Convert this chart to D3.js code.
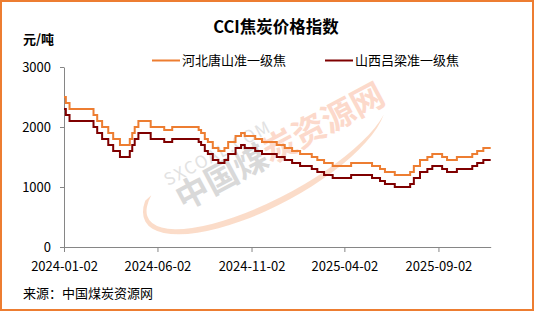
<!DOCTYPE html>
<html>
<head>
  <meta charset="utf-8">
  <title>CCI焦炭价格指数</title>
  <script src="https://d3js.org/d3.v7.min.js"></script>
  <style>
    body { margin: 0; background: #fff; }
    text { font-family: "Noto Sans CJK SC", sans-serif; fill: #000; }
  </style>
</head>
<body>

<script>
// step change dates (price in effect from that day)
const dates = [
  '2024-01-02', '2024-01-05', '2024-01-11', '2024-02-19', '2024-02-25', '2024-03-04',
  '2024-03-14', '2024-03-22', '2024-04-02', '2024-04-18', '2024-04-22', '2024-04-26',
  '2024-05-02', '2024-05-22', '2024-06-13', '2024-06-26', '2024-08-08', '2024-08-12',
  '2024-08-18', '2024-08-23', '2024-08-31', '2024-09-09', '2024-09-19', '2024-09-25',
  '2024-10-07', '2024-10-16', '2024-10-22', '2024-11-08', '2024-11-19', '2024-12-13',
  '2024-12-26', '2025-01-07', '2025-01-20', '2025-02-08', '2025-02-17', '2025-02-28',
  '2025-03-14', '2025-04-13', '2025-05-17', '2025-05-30', '2025-06-07', '2025-06-23',
  '2025-07-18', '2025-07-24', '2025-08-03', '2025-08-15', '2025-08-23', '2025-09-08',
  '2025-09-16', '2025-10-02', '2025-10-27', '2025-11-04', '2025-11-14', '2025-11-26'
];

// 河北唐山准一级焦
const hebei = [
  2500, 2400, 2300, 2200, 2100, 2000,
  1900, 1800, 1700, 1800, 1900, 2000,
  2100, 2000, 1950, 2000, 1950, 1900,
  1800, 1750, 1650, 1600, 1650, 1750,
  1850, 1900, 1850, 1800, 1750, 1700,
  1650, 1600, 1550, 1500, 1450, 1400,
  1350, 1400, 1350, 1300, 1250, 1200,
  1250, 1350, 1450, 1500, 1550, 1500,
  1450, 1500, 1550, 1600, 1650, 1650
];

// 山西吕梁准一级焦
const shanxi = [
  2300, 2200, 2100, 2000, 1900, 1800,
  1700, 1600, 1500, 1600, 1700, 1800,
  1900, 1800, 1750, 1800, 1750, 1700,
  1600, 1550, 1450, 1400, 1450, 1550,
  1650, 1700, 1650, 1600, 1550, 1500,
  1450, 1400, 1350, 1300, 1250, 1200,
  1150, 1200, 1150, 1100, 1050, 1000,
  1050, 1150, 1250, 1300, 1350, 1300,
  1250, 1300, 1350, 1400, 1450, 1450
];

const xTickLabels = ['2024-01-02', '2024-06-02', '2024-11-02', '2025-04-02', '2025-09-02'];
const yTicks = [0, 1000, 2000, 3000];

const seriesNames = ['河北唐山准一级焦', '山西吕梁准一级焦'];
const colors = ['#ed7d31', '#7f0000'];

const width = 534, height = 311;
const margin = { top: 67, right: 43.3, bottom: 64, left: 64 };

const parse = d3.timeParse('%Y-%m-%d');
const t = dates.map(parse);

const svg = d3.select('body').append('svg')
  .attr('width', width)
  .attr('height', height);

// outer frame
svg.append('rect')
  .attr('x', 1).attr('y', 1)
  .attr('width', width - 2).attr('height', height - 2)
  .attr('fill', '#fff')
  .attr('stroke', '#ed7d31')
  .attr('stroke-width', 2);

const x = d3.scaleTime()
  .domain(d3.extent(t))
  .range([margin.left, width - margin.right]);

const y = d3.scaleLinear()
  .domain([0, 3000])
  .range([height - margin.bottom, margin.top]);

// watermark
const wm = svg.append('g')
  .attr('transform', 'translate(272,156) rotate(-28)');

wm.append('path')
  .attr('d', 'M -133,-20 A 128 46 0 0 0 118 16 A 124 40 0 0 1 -125 -22 Z')
  .attr('fill', '#fad3bc')
  .attr('opacity', 0.8);

wm.append('text')
  .attr('x', -106).attr('y', -22)
  .attr('font-size', 17)
  .attr('letter-spacing', 1.5)
  .style('fill', '#e2e2e2')
  .text('SXCOAL.COM');

const wt = wm.append('text')
  .attr('x', -104).attr('y', 7)
  .attr('font-size', 33)
  .attr('font-weight', 'bold');
wt.append('tspan').style('fill', '#d9d9d9').text('中国煤');
wt.append('tspan').style('fill', '#fcd9cb').text('炭资源网');

// axes
const xAxis = d3.axisBottom(x)
  .tickValues(xTickLabels.map(parse))
  .tickFormat(d3.timeFormat('%Y-%m-%d'))
  .tickSize(5)
  .tickSizeOuter(0)
  .tickPadding(10);

const gx = svg.append('g')
  .attr('transform', `translate(0,${height - margin.bottom})`)
  .call(xAxis);
gx.selectAll('text').attr('font-size', 13).style('font-family', '"Noto Sans CJK SC", sans-serif');

const yAxis = d3.axisLeft(y)
  .tickValues(yTicks)
  .tickFormat(d3.format('d'))
  .tickSize(4)
  .tickSizeOuter(0)
  .tickPadding(9);

const gy = svg.append('g')
  .attr('transform', `translate(${margin.left},0)`)
  .call(yAxis);
gy.selectAll('text').attr('font-size', 13).style('font-family', '"Noto Sans CJK SC", sans-serif');

svg.selectAll('.domain, .tick line').attr('stroke', '#868686');

// lines
const line = vals => d3.line()
  .x((d, i) => x(t[i]))
  .y(d => y(d))
  .curve(d3.curveStepAfter)(vals);

[hebei, shanxi].forEach((vals, k) => {
  svg.append('path')
    .attr('d', line(vals))
    .attr('fill', 'none')
    .attr('stroke', colors[k])
    .attr('stroke-width', 2);
});

// title & labels
svg.append('text')
  .attr('x', 276).attr('y', 33)
  .attr('text-anchor', 'middle')
  .attr('font-size', 16.5)
  .attr('font-weight', 'bold')
  .text('CCI焦炭价格指数');

svg.append('text')
  .attr('x', 23).attr('y', 43.5)
  .attr('font-size', 13)
  .attr('font-weight', 'bold')
  .text('元/吨');

// legend
const legendX = [152, 325];
seriesNames.forEach((name, k) => {
  svg.append('line')
    .attr('x1', legendX[k]).attr('x2', legendX[k] + 28)
    .attr('y1', 60.5).attr('y2', 60.5)
    .attr('stroke', colors[k])
    .attr('stroke-width', 2);
  svg.append('text')
    .attr('x', legendX[k] + 30).attr('y', 65)
    .attr('font-size', 13)
    .text(name);
});

svg.append('text')
  .attr('x', 23).attr('y', 297.5)
  .attr('font-size', 13)
  .text('来源：中国煤炭资源网');
</script>

</body>
</html>
